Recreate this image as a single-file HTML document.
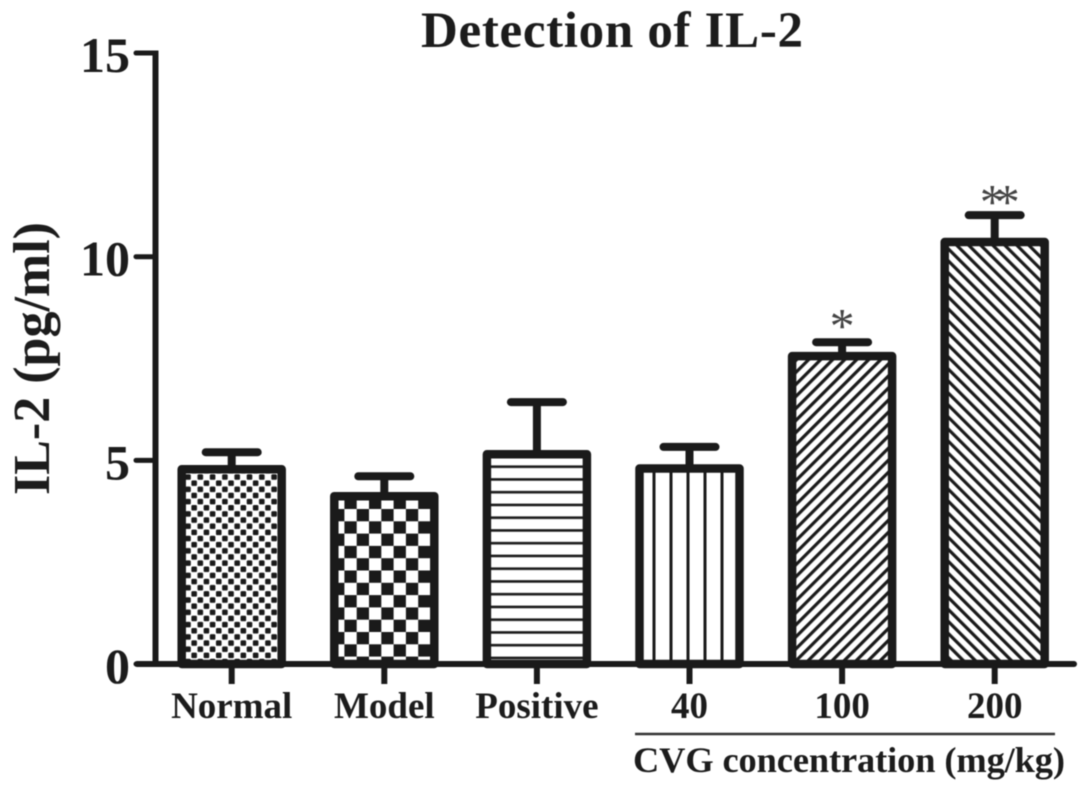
<!DOCTYPE html>
<html lang="en">
<head>
<meta charset="utf-8">
<title>Detection of IL-2</title>
<style>
html,body{margin:0;padding:0;background:#fff;width:1087px;height:794px;overflow:hidden}
svg{display:block;filter:blur(0.6px)}
text{font-family:"Liberation Serif",serif;font-weight:bold;fill:#1c1c1c}
</style>
</head>
<body>
<svg id="chart" xmlns="http://www.w3.org/2000/svg" width="1087" height="794" viewBox="0 0 1087 794">
  <defs>
    <pattern id="hatch-0" patternUnits="userSpaceOnUse" width="12.3" height="12.3" x="185" y="474">
      <rect width="12.3" height="12.3" fill="#fff"/>
      <rect x="0.2" y="0.2" width="5.6" height="5.6" rx="1.4" fill="#1a1a1a"/>
      <rect x="6.35" y="6.35" width="5.6" height="5.6" rx="1.4" fill="#1a1a1a"/>
    </pattern>
    <pattern id="hatch-1" patternUnits="userSpaceOnUse" width="24.6" height="24.6" x="356.7" y="509">
      <rect width="24.6" height="24.6" fill="#fff"/>
      <rect x="0" y="0" width="12.3" height="12.3" fill="#1a1a1a"/>
      <rect x="12.3" y="12.3" width="12.3" height="12.3" fill="#1a1a1a"/>
    </pattern>
    <pattern id="hatch-2" patternUnits="userSpaceOnUse" width="12.75" height="12.75" x="0" y="461.4">
      <rect width="12.75" height="12.75" fill="#fff"/>
      <rect x="0" y="4" width="12.75" height="2.6" fill="#1a1a1a"/>
    </pattern>
    <pattern id="hatch-3" patternUnits="userSpaceOnUse" width="17" height="17" x="648.5" y="0">
      <rect width="17" height="17" fill="#fff"/>
      <rect x="4" y="0" width="3" height="17" fill="#1a1a1a"/>
    </pattern>
    <pattern id="hatch-4" patternUnits="userSpaceOnUse" width="8.5" height="8.5" patternTransform="rotate(45)">
      <rect width="8.5" height="8.5" fill="#fff"/>
      <rect x="0" y="0" width="3.2" height="8.5" fill="#1a1a1a"/>
    </pattern>
    <pattern id="hatch-5" patternUnits="userSpaceOnUse" width="8.5" height="8.5" patternTransform="rotate(-45)">
      <rect width="8.5" height="8.5" fill="#fff"/>
      <rect x="0" y="0" width="3.2" height="8.5" fill="#1a1a1a"/>
    </pattern>
  </defs>
  <rect width="1087" height="794" fill="#fff"/>
  <text x="612" y="47" font-size="51" text-anchor="middle" textLength="382" lengthAdjust="spacing">Detection of IL-2</text>
  <text transform="translate(49,358.5) rotate(-90)" font-size="52" text-anchor="middle" textLength="273" lengthAdjust="spacing">IL-2 (pg/ml)</text>
  <line x1="635" y1="734" x2="1055" y2="734" stroke="#333" stroke-width="2.5"/>
  <text x="849" y="772" font-size="36.4" text-anchor="middle" textLength="432" lengthAdjust="spacing">CVG concentration (mg/kg)</text>
  <g id="marks"></g>
  <g id="axes"></g>
</svg>
<script>
const categories = ['Normal', 'Model', 'Positive', '40', '100', '200'];
const means = [4.78, 4.12, 5.15, 4.8, 7.56, 10.36];
const upperErrors = [5.2, 4.61, 6.43, 5.33, 7.9, 11.02];
const significance = ['', '', '', '', '*', '**'];
const yTicks = [0, 5, 10, 15];

const NS = 'http://www.w3.org/2000/svg';
const INK = '#1a1a1a';
const yScale = function (v) { return 664 - v * 40.73; };
const xScale = function (i) { return 231.7 + i * 152.6; };
const marks = document.getElementById('marks');
const axes = document.getElementById('axes');

function make(parent, tag, attrs, content) {
  const el = document.createElementNS(NS, tag);
  Object.keys(attrs).forEach(function (k) { el.setAttribute(k, attrs[k]); });
  if (content !== undefined) el.textContent = content;
  parent.appendChild(el);
  return el;
}

categories.forEach(function (cat, i) {
  const cx = xScale(i);
  const top = yScale(means[i]);
  const errTop = yScale(upperErrors[i]);

  const stem = make(marks, 'line', { x1: cx, x2: cx, y1: top, y2: errTop, stroke: INK, 'stroke-width': 8 });
  
  

  const cap = make(marks, 'line', { x1: cx - 26, x2: cx + 26, y1: errTop, y2: errTop, stroke: INK, 'stroke-width': 8, 'stroke-linecap': 'round' });
  
  

  const bar = make(marks, 'rect', { x: cx - 50, y: top, width: 100, height: yScale(0) - top, fill: 'url(#hatch-' + i + ')', stroke: INK, 'stroke-width': 8.5, 'stroke-linejoin': 'round' });
  
  

  const tick = make(axes, 'line', { x1: cx, x2: cx, y1: yScale(0), y2: yScale(0) + 20, stroke: INK, 'stroke-width': 6 });
  
  

  const label = make(axes, 'text', { x: cx, y: 718, 'font-size': 37, 'text-anchor': 'middle' }, cat);
  
  

  const mark = significance[i];
  if (mark) {
    const many = mark.length > 1;
    const star = make(marks, 'text', { x: cx, y: errTop + (many ? 3.5 : 0.5), 'font-size': 50, 'text-anchor': 'middle', style: 'font-weight:normal;fill:#444;letter-spacing:' + (many ? '-10px' : '0') }, mark);
    
    
  }
});

const yAxisLine = make(axes, 'line', { x1: 155.5, x2: 155.5, y1: yScale(15) - 2.5, y2: yScale(0), stroke: INK, 'stroke-width': 6 });



const xAxisLine = make(axes, 'line', { x1: 137, x2: 1074, y1: yScale(0), y2: yScale(0), stroke: INK, 'stroke-width': 6, 'stroke-linecap': 'round' });



yTicks.forEach(function (t) {
  const tick = make(axes, 'line', { x1: 136, x2: 155, y1: yScale(t), y2: yScale(t), stroke: INK, 'stroke-width': 5, 'stroke-linecap': 'round' });
  
  

  const label = make(axes, 'text', { x: 130, y: yScale(t) + 19, 'font-size': 50, 'text-anchor': 'end' }, String(t));
  
  
});
</script>
</body>
</html>
